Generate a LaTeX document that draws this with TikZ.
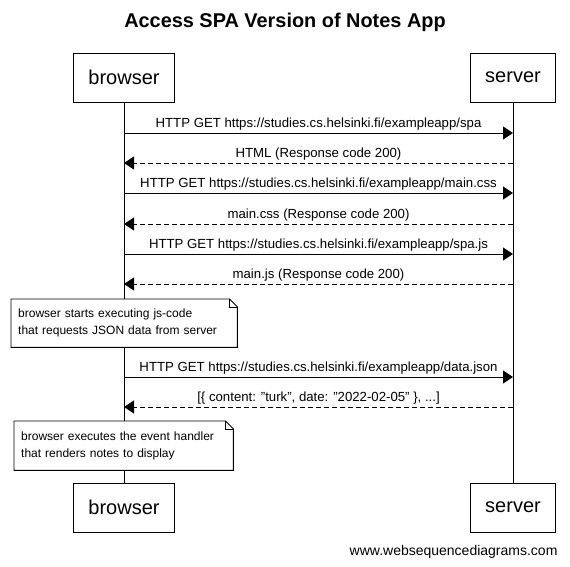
\documentclass[tikz,border=0pt]{standalone}
\usepackage{fontspec}
\setmainfont{Liberation Sans}[Ligatures=ResetAll]
\usetikzlibrary{arrows.meta}

\tikzset{
  actor/.style={draw, line width=0.9pt, minimum height=49pt, inner xsep=15pt, inner ysep=0pt, font=\fontsize{20}{24}\selectfont},
  msg/.style={line width=0.9pt, -{Triangle[length=10pt, width=13pt]}},
  reply/.style={msg, dash pattern=on 5pt off 3pt},
  msgtext/.style={midway, above, inner sep=2pt, font=\fontsize{13.2}{15}\selectfont},
  notebox/.style={fill=white, anchor=north west, align=left, inner xsep=7pt, inner ysep=0pt, font=\fontsize{12}{17}\selectfont}
}

\begin{document}
\begin{tikzpicture}[x=1pt, y=-1pt]
        \useasboundingbox (0,0) rectangle (570,566);

        % Title
        \node[font=\bfseries\fontsize{19.9}{23}\selectfont] (title) at (285,22) {Access SPA Version of Notes App};

        % Actors
        \node[actor] (browserTop) at (124,77.5) {browser};
        \node[actor] (serverTop) at (513,77.5) {server};
        \node[actor] (browserBot) at (124,507.5) {browser};
        \node[actor] (serverBot) at (513,507.5) {server};

        % Lifelines
        \draw[line width=0.9pt] (browserTop) -- (browserBot);
        \draw[line width=0.9pt] (serverTop) -- (serverBot);

        % Message ends on the lifelines
        \coordinate (b1) at (124,133); \coordinate (s1) at (513,133);
        \coordinate (b2) at (124,163); \coordinate (s2) at (513,163);
        \coordinate (b3) at (124,193); \coordinate (s3) at (513,193);
        \coordinate (b4) at (124,224); \coordinate (s4) at (513,224);
        \coordinate (b5) at (124,254); \coordinate (s5) at (513,254);
        \coordinate (b6) at (124,284); \coordinate (s6) at (513,284);
        \coordinate (b7) at (124,377); \coordinate (s7) at (513,377);
        \coordinate (b8) at (124,407); \coordinate (s8) at (513,407);

        % Requests and responses
        \draw[msg] (b1) -- (s1) node[msgtext] {HTTP GET https://studies.cs.helsinki.fi/exampleapp/spa};
        \draw[reply] (s2) -- (b2) node[msgtext] {HTML (Response code 200)};
        \draw[msg] (b3) -- (s3) node[msgtext] {HTTP GET https://studies.cs.helsinki.fi/exampleapp/main.css};
        \draw[reply] (s4) -- (b4) node[msgtext] {main.css (Response code 200)};
        \draw[msg] (b5) -- (s5) node[msgtext] {HTTP GET https://studies.cs.helsinki.fi/exampleapp/spa.js};
        \draw[reply] (s6) -- (b6) node[msgtext] {main.js (Response code 200)};
        \draw[msg] (b7) -- (s7) node[msgtext] {HTTP GET https://studies.cs.helsinki.fi/exampleapp/data.json};
        \draw[reply] (s8) -- (b8) node[msgtext] {[\{ content: "turk", date: "2022-02-05" \}, ...]};

        % Notes
        \node[notebox, text width=212pt, minimum height=48pt] (note1) at (11,299)
            {browser starts executing js-code\\that requests JSON data from server};
        \draw[line width=0.9pt] (note1.north west) -- ([xshift=-8pt]note1.north east) -- ([yshift=-8pt]note1.north east)
            -- (note1.south east) -- (note1.south west) -- cycle;
        \draw[line width=0.9pt] ([xshift=-8pt]note1.north east) -- ([xshift=-8pt, yshift=-8pt]note1.north east) -- ([yshift=-8pt]note1.north east);

        \node[notebox, text width=205pt, minimum height=49pt] (note2) at (14,421)
            {browser executes the event handler\\that renders notes to display};
        \draw[line width=0.9pt] (note2.north west) -- ([xshift=-8pt]note2.north east) -- ([yshift=-8pt]note2.north east)
            -- (note2.south east) -- (note2.south west) -- cycle;
        \draw[line width=0.9pt] ([xshift=-8pt]note2.north east) -- ([xshift=-8pt, yshift=-8pt]note2.north east) -- ([yshift=-8pt]note2.north east);

        % Footer
        \node[anchor=east, font=\fontsize{14}{16}\selectfont] (footer) at (561,552) {www.websequencediagrams.com};
\end{tikzpicture}
\end{document}
